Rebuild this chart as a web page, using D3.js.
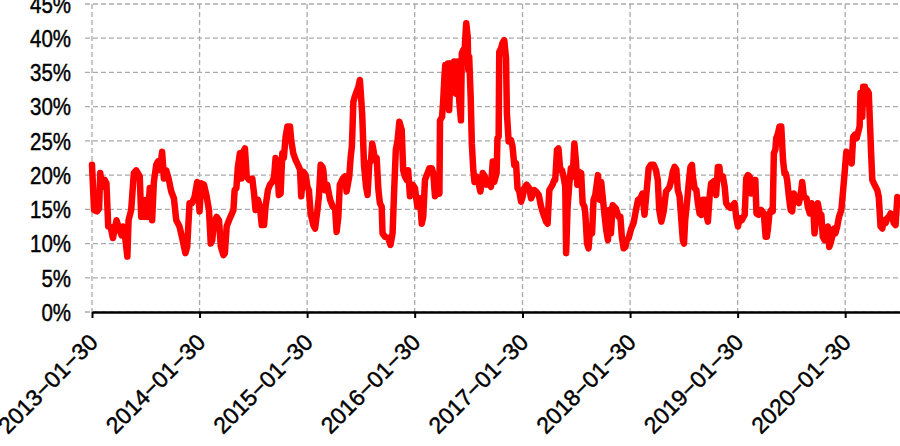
<!DOCTYPE html>
<html>
<head>
<meta charset="utf-8">
<script src="https://cdn.jsdelivr.net/npm/d3@7/dist/d3.min.js"></script>
<style>
  body { margin: 0; background: #fff; }
  svg { display: block; }
  .axis text { font-family: "Liberation Sans", Arial, sans-serif; fill: #000; stroke: #000; stroke-width: 0.45; }
  .y.axis text { font-size: 23px; }
  .x.axis text { font-size: 23px; }
  .grid line { stroke: #aaaaaa; stroke-width: 1.3; stroke-dasharray: 5 3; }
</style>
</head>
<body>
<svg id="chart" width="900" height="446"></svg>
<script>
const startDate = '2013-01-30';

// calendar days after startDate
const dayOffsets = [
  0, 7, 17, 24, 28, 34, 43, 49, 55, 63, 71, 83, 90, 100, 105, 111, 120, 124, 133, 142,
  150, 162, 167, 179, 184, 190, 196, 204, 210, 218, 224, 230, 238, 244, 252, 260, 269, 278, 286, 297,
  305, 317, 323, 331, 339, 348, 357, 365, 371, 380,
  389, 397, 403, 408, 414, 423, 431, 437, 446, 451, 457, 465, 470, 480, 484, 490, 495, 502, 507, 513,
  519, 525, 533, 544, 550, 555, 563, 570, 576, 584, 589, 597, 604, 612, 618, 623, 629, 634, 640, 646,
  651, 657, 663, 672, 676, 683, 691, 699, 706, 710, 717, 725, 731, 736, 742, 751, 757, 765, 770, 776, 782,
  785, 791, 798, 808, 817, 825, 830, 836, 841, 851, 858, 864, 873, 878, 882, 887, 892, 898, 904, 909,
  913, 917, 923, 930, 935, 941, 947, 951, 955, 960, 966, 972, 977, 983, 986, 994, 1005, 1013, 1020, 1025,
  1031, 1037, 1043, 1051, 1056, 1062, 1068, 1073, 1079, 1088, 1096, 1104, 1113, 1119, 1124, 1130, 1136, 1145, 1153, 1158,
  1164, 1169,
  1173, 1179, 1181, 1188, 1192, 1196, 1199, 1203, 1208, 1212, 1218, 1224, 1229, 1235, 1241, 1246, 1252, 1255, 1260, 1263,
  1267, 1270, 1275, 1277, 1280, 1285, 1289, 1294, 1298, 1305, 1312, 1318, 1326, 1333, 1339, 1348, 1354, 1360, 1365, 1373,
  1376, 1380, 1382, 1388, 1393, 1399, 1405, 1408, 1414, 1422, 1427, 1433, 1439, 1444, 1450, 1456, 1461, 1467, 1475, 1484,
  1490, 1495, 1501, 1507, 1516, 1524, 1531, 1541, 1546, 1552, 1563, 1569,
  1572, 1578, 1583, 1589, 1595, 1600, 1606, 1609, 1614, 1620, 1625, 1631, 1637, 1642, 1647, 1651, 1660, 1665, 1671, 1674,
  1680, 1685, 1691, 1697, 1702, 1708, 1717, 1723, 1728, 1734, 1740, 1745, 1751, 1755, 1761, 1767, 1771, 1778, 1787, 1793,
  1798, 1804, 1810, 1815, 1821, 1830, 1838, 1846, 1853, 1861, 1868, 1875, 1881, 1889, 1896, 1906, 1914, 1920, 1925, 1932,
  1940, 1948, 1957,
  1960, 1966, 1971, 1977, 1983, 1988, 1994, 2000, 2005, 2009, 2013, 2020, 2025, 2031, 2036, 2039, 2045, 2051, 2056, 2062,
  2068, 2073, 2079, 2084, 2090, 2096, 2101, 2110, 2118, 2124, 2129, 2133, 2141, 2147, 2152, 2160, 2167, 2175, 2181, 2186,
  2192, 2198, 2205, 2215, 2220, 2226, 2232, 2237, 2243, 2251, 2255, 2262, 2271, 2280, 2286, 2290, 2294, 2299, 2305, 2310,
  2314, 2319, 2322, 2328, 2333, 2339, 2345, 2350,
  2354, 2359, 2365, 2371, 2376, 2382, 2388, 2393, 2399, 2407, 2410, 2416, 2425, 2429, 2436, 2442, 2448, 2452, 2458, 2463,
  2469, 2475, 2480, 2486, 2492, 2497, 2502, 2506, 2512, 2518, 2523, 2529, 2535, 2543, 2549, 2555, 2560, 2566, 2572, 2578,
  2583, 2589, 2595, 2599, 2605, 2608, 2614, 2617, 2623, 2627, 2631, 2636, 2640, 2644, 2648, 2653, 2659, 2665, 2670, 2676,
  2682, 2687, 2693, 2699, 2704, 2710, 2716, 2721, 2727, 2733, 2738, 2742
];

// volatility, percent
const volatility = [
  21.5, 14.9, 14.7, 15.1, 20.3, 18.3, 19.3, 18.8, 12.5, 12.5, 10.8, 13.4, 12.5, 11.2, 12.5, 11.5, 8.1, 13.4, 14.9, 20.3,
  20.7, 19.8, 13.9, 13.9, 16.4, 13.9, 18.1, 13.4, 19.0, 21.5, 22.0, 20.7, 23.4, 19.5, 20.7, 19.5, 17.6, 16.6, 13.4, 12.5,
  11.0, 8.6, 9.5, 15.9, 15.9, 16.8, 19.0, 14.7, 18.8, 18.6,
  16.9, 14.9, 10.0, 10.5, 13.0, 13.9, 13.4, 9.6, 8.3, 8.6, 12.5, 13.4, 13.9, 14.9, 17.8, 18.1, 21.2, 23.2, 19.5, 23.4,
  23.9, 19.8, 19.3, 19.5, 17.3, 14.9, 16.4, 15.4, 12.7, 12.7, 15.4, 17.8, 18.6, 19.0, 19.8, 22.5, 21.2, 17.1, 17.3, 23.2,
  22.5, 25.6, 27.1, 27.1, 25.1, 23.2, 22.2, 21.5, 20.8, 16.9, 20.5, 20.0, 18.3, 17.8, 14.4, 12.7, 12.2, 14.9, 16.9, 21.5, 21.2,
  20.7, 17.8, 18.6, 16.4, 15.4, 15.1, 11.7, 13.9, 18.6, 19.5, 19.8, 17.6, 19.8, 22.7, 24.2, 30.7, 31.5, 32.2, 32.9, 33.9,
  31.5, 28.8, 21.5, 18.3, 17.1, 21.7, 22.2, 24.6, 23.7, 22.2, 22.5, 17.8, 15.9, 15.4, 11.5, 11.0, 10.8, 9.8, 11.5, 17.3,
  23.7, 25.1, 27.8, 26.6, 20.7, 19.8, 19.3, 20.7, 16.9, 18.6, 18.1, 15.4, 16.6, 12.9, 13.9, 19.3, 20.0, 21.0, 21.0, 20.3,
  16.9, 17.3,
  17.8, 17.3, 28.0, 28.5, 31.0, 34.4, 36.1, 31.0, 36.3, 29.5, 36.3, 32.4, 36.6, 31.9, 36.6, 31.0, 28.0, 37.8, 38.3, 36.6,
  40.2, 42.2, 40.2, 35.4, 37.3, 31.5, 24.6, 20.7, 19.0, 19.8, 18.8, 17.6, 20.3, 19.8, 18.6, 18.8, 18.3, 22.0, 19.0, 20.3,
  25.4, 25.6, 38.0, 38.5, 39.3, 39.7, 37.1, 29.0, 24.9, 25.1, 24.2, 21.5, 21.7, 18.1, 17.6, 16.1, 16.8, 18.1, 18.6, 18.1,
  16.6, 17.1, 17.8, 17.6, 17.1, 15.4, 14.4, 13.2, 12.9, 17.8, 18.6, 19.3,
  19.3, 23.7, 23.9, 20.7, 20.7, 19.8, 18.3, 8.6, 15.4, 18.8, 21.0, 19.8, 24.6, 22.2, 18.6, 20.5, 20.3, 15.9, 15.4, 14.4,
  10.0, 9.3, 12.5, 11.5, 16.4, 17.1, 20.0, 16.4, 19.0, 16.4, 13.9, 12.0, 10.5, 14.9, 11.5, 15.6, 15.4, 15.1, 13.9, 13.9,
  11.0, 9.3, 9.5, 10.5, 10.8, 12.2, 13.0, 14.9, 16.4, 16.6, 17.3, 14.2, 17.1, 21.0, 21.5, 21.5, 20.7, 19.3, 14.9, 13.2,
  14.7, 17.6, 18.1,
  18.3, 19.3, 20.5, 21.2, 20.8, 17.8, 16.9, 13.4, 10.5, 10.0, 13.4, 16.4, 18.8, 21.2, 21.5, 19.8, 18.1, 17.8, 15.9, 14.4,
  14.2, 16.4, 16.4, 14.4, 13.2, 16.9, 18.8, 19.1, 17.1, 21.2, 21.2, 19.5, 19.8, 18.3, 15.9, 15.4, 15.2, 15.6, 15.9, 13.9,
  12.5, 13.7, 13.4, 14.2, 19.5, 20.0, 19.8, 17.3, 19.3, 19.3, 14.4, 14.2, 14.9, 14.4, 11.0, 11.0, 12.2, 14.4, 14.9, 14.7,
  23.2, 23.7, 25.4, 26.1, 27.1, 27.1, 22.2, 20.3,
  20.3, 19.3, 16.8, 14.9, 14.7, 17.3, 16.1, 16.8, 15.9, 17.8, 19.0, 16.8, 16.6, 15.4, 14.4, 15.9, 14.9, 11.5, 13.9, 15.9,
  14.4, 14.2, 11.0, 10.5, 11.5, 12.5, 9.5, 10.0, 11.0, 12.2, 11.5, 12.5, 13.9, 14.9, 17.8, 20.8, 23.4, 22.7, 22.2, 21.7,
  25.6, 25.9, 25.4, 26.1, 27.1, 32.0, 28.5, 32.9, 32.9, 30.5, 32.4, 32.0, 27.6, 23.2, 19.3, 18.8, 18.3, 17.8, 16.8, 12.5,
  12.2, 13.4, 13.0, 13.7, 13.9, 14.4, 13.7, 13.0, 12.7, 16.8, 16.6, 15.9
];

const yTickValues = [0, 5, 10, 15, 20, 25, 30, 35, 40, 45];
const xTickLabels = ['2013-01-30', '2014-01-30', '2015-01-30', '2016-01-30',
  '2017-01-30', '2018-01-30', '2019-01-30', '2020-01-30'];

const margin = { top: 4, right: 0, bottom: 134, left: 92 };
const width = 900 - margin.left - margin.right;
const height = 446 - margin.top - margin.bottom;

const parseDate = d3.utcParse('%Y-%m-%d');
const start = parseDate(startDate);
const data = dayOffsets.map((d, i) => ({ date: d3.utcDay.offset(start, d), value: volatility[i] }));
const xTicks = xTickLabels.map(parseDate);

const svg = d3.select('#chart');
const chart = svg.append('g')
  .attr('transform', `translate(${margin.left},${margin.top})`);

const xScale = d3.scaleUtc()
  .domain(d3.extent(data, d => d.date))
  .range([0, width]);

const yScale = d3.scaleLinear()
  .domain([0, 45])
  .range([height, 0]);

// dashed grid
const grid = chart.append('g').attr('class', 'grid');
grid.selectAll('.h')
  .data(yTickValues)
  .enter().append('line')
  .attr('class', 'h')
  .attr('x1', -7)
  .attr('x2', width)
  .attr('y1', d => yScale(d))
  .attr('y2', d => yScale(d));
grid.selectAll('.v')
  .data(xTicks)
  .enter().append('line')
  .attr('class', 'v')
  .attr('x1', d => xScale(d))
  .attr('x2', d => xScale(d))
  .attr('y1', 0)
  .attr('y2', height);

// y labels
const yAxis = d3.axisLeft(yScale)
  .tickValues(yTickValues)
  .tickFormat(d => d + '%')
  .tickSize(0);
const yG = chart.append('g').attr('class', 'y axis').call(yAxis);
yG.select('.domain').remove();
yG.selectAll('text')
  .attr('x', 0)
  .attr('dy', '0.36em')
  .attr('transform', 'translate(-21,0) scale(0.89,1)');

// x axis, dashes drawn long like the original device does
const xAxis = d3.axisBottom(xScale)
  .tickValues(xTicks)
  .tickFormat((d, i) => xTickLabels[i].replace(/-/g, '\u2212'))
  .tickSize(6)
  .tickSizeOuter(0);
const xG = chart.append('g')
  .attr('class', 'x axis')
  .attr('transform', `translate(0,${height})`)
  .call(xAxis);
xG.select('.domain').attr('stroke', '#000').attr('stroke-width', 2.5);
xG.selectAll('.tick line').attr('stroke', '#000').attr('stroke-width', 2);
xG.selectAll('text')
  .attr('x', 0)
  .attr('y', 0)
  .attr('dy', '0.35em')
  .attr('text-anchor', 'end')
  .attr('transform', 'translate(1,26) rotate(-45)');

// series
const line = d3.line()
  .x(d => xScale(d.date))
  .y(d => yScale(d.value));

chart.append('path')
  .datum(data)
  .attr('fill', 'none')
  .attr('stroke', '#ff0000')
  .attr('stroke-width', 6.5)
  .attr('stroke-linejoin', 'round')
  .attr('stroke-linecap', 'round')
  .attr('d', line);
</script>
</body>
</html>
